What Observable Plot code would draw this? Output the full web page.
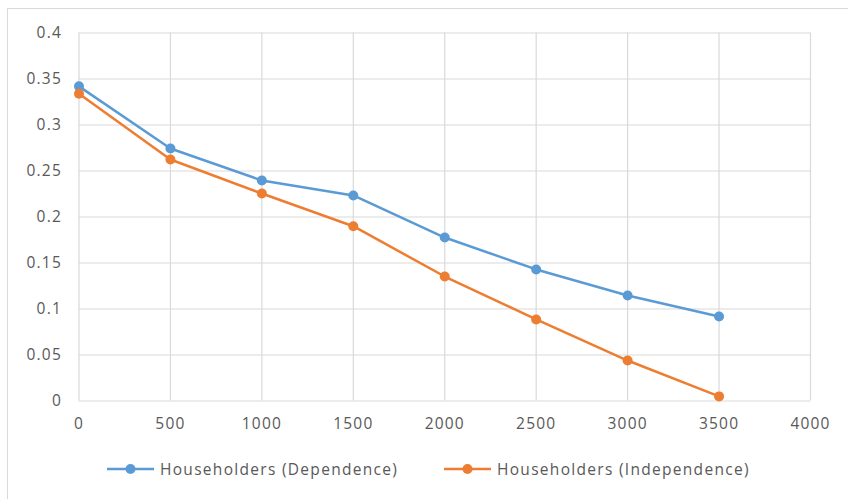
<!DOCTYPE html>
<html>
<head>
<meta charset="utf-8">
<script src="https://cdn.jsdelivr.net/npm/d3@7"></script>
<script src="https://cdn.jsdelivr.net/npm/@observablehq/plot@0.6"></script>
<style>
  html, body { margin: 0; padding: 0; background: #fff; }
  body { width: 848px; height: 499px; position: relative; overflow: hidden; font-family: "Open Sans", "Noto Sans", sans-serif; }
  #frame { position: absolute; left: 7px; top: 8px; width: 850px; height: 500px; border-top: 1.5px solid #d9d9d9; border-left: 1.5px solid #d9d9d9; box-sizing: border-box; }
  #chart { position: absolute; left: 0; top: 0; }
  #chart svg text { letter-spacing: 1.2px; font-size: 15.5px; }
  #legend { position: absolute; top: 458px; left: 0; width: 848px; height: 22px; font-size: 15.5px; letter-spacing: 1.3px; color: #595959; }
  .item { position: absolute; top: 0; display: flex; align-items: center; height: 22px; white-space: nowrap; }
  .item svg { margin-right: 6px; }
</style>
</head>
<body>
<div id="frame"></div>
<div id="chart"></div>
<div id="legend"></div>
<script>
const xValues = [0, 500, 1000, 1500, 2000, 2500, 3000, 3500];
const seriesNames = ["Householders (Dependence)", "Householders (Independence)"];
const dependence = [0.342, 0.2745, 0.2397, 0.2234, 0.1777, 0.143, 0.1147, 0.0918];
const independence = [0.334, 0.2625, 0.2255, 0.19, 0.1353, 0.0886, 0.044, 0.005];
const xTicks = [0, 500, 1000, 1500, 2000, 2500, 3000, 3500, 4000];
const yTicks = [0, 0.05, 0.1, 0.15, 0.2, 0.25, 0.3, 0.35, 0.4];
const colors = ["#5B9BD5", "#ED7D31"];

const data = [];
[dependence, independence].forEach((vals, s) => {
  vals.forEach((v, i) => data.push({x: xValues[i], y: v, series: seriesNames[s]}));
});

const chart = Plot.plot({
  width: 848,
  height: 440,
  marginLeft: 78.5,
  marginRight: 38,
  marginTop: 32.5,
  marginBottom: 39.5,
  style: {fontFamily: "'Open Sans', 'Noto Sans', sans-serif", fontSize: "15.5px", color: "#595959", background: "transparent", overflow: "visible"},
  x: {domain: [0, 4000], label: null},
  y: {domain: [0, 0.4], label: null},
  color: {domain: seriesNames, range: colors},
  marks: [
    Plot.gridX(xTicks, {stroke: "#d9d9d9", strokeOpacity: 1, strokeWidth: 1.2}),
    Plot.gridY(yTicks, {stroke: "#d9d9d9", strokeOpacity: 1, strokeWidth: 1.2}),
    Plot.axisX({ticks: xTicks, tickFormat: d => String(d), tickSize: 0, tickPadding: 17, fill: "#595959"}),
    Plot.axisY({ticks: yTicks, tickFormat: d => String(+d.toFixed(2)), tickSize: 0, tickPadding: 17, fill: "#595959"}),
    Plot.line(data, {x: "x", y: "y", z: "series", stroke: "series", strokeWidth: 2.5}),
    Plot.dot(data, {x: "x", y: "y", fill: "series", r: 5})
  ]
});
document.getElementById("chart").appendChild(chart);

const legend = document.getElementById("legend");
const lefts = [107, 444];
seriesNames.forEach((name, i) => {
  const item = document.createElement("div");
  item.className = "item";
  item.style.left = lefts[i] + "px";
  item.innerHTML = `<svg width="47" height="12"><line x1="0" y1="6" x2="47" y2="6" stroke="${colors[i]}" stroke-width="2.5"/><circle cx="23.5" cy="6" r="5" fill="${colors[i]}"/></svg><span>${name}</span>`;
  legend.appendChild(item);
});
</script>
</body>
</html>
